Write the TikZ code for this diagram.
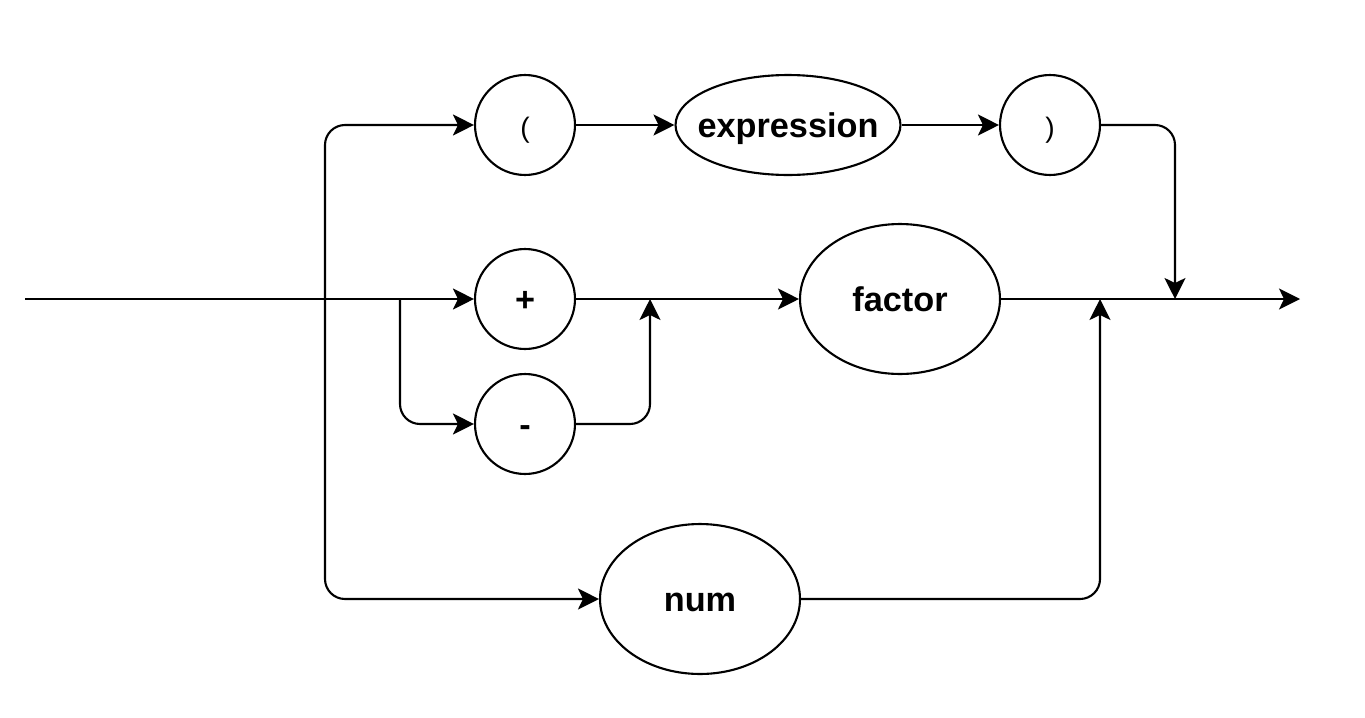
\documentclass[tikz,border=0pt]{standalone}
\usepackage{fontspec}
\setmainfont{Liberation Sans}
\usetikzlibrary{shapes.geometric,arrows.meta}
\tikzset{
  term/.style={circle, draw=black, line width=1.2pt, minimum size=2cm, inner sep=0pt,
    font=\fontsize{19.5}{22}\selectfont\bfseries, text height=14.2pt, text depth=0pt},
  paren/.style={term, font=\fontsize{16}{19}\selectfont},
  nonterm/.style={ellipse, draw=black, line width=1.2pt, inner sep=-0.3cm,
    font=\fontsize{19.5}{22}\selectfont\bfseries, text height=14.2pt, text depth=0pt},
  arr/.style={line width=1.2pt, -{Stealth[length=0.42cm,width=0.42cm,inset=0.1cm]}},
  link/.style={arr, rounded corners=0.4cm},
}

\begin{document}
\begin{tikzpicture}[x=0.02cm,y=-0.02cm]
    \useasboundingbox (0,0) rectangle (1365,717);

    % grammar symbols
    \node [paren] (lp) at (525,125) {(};
    \node [nonterm, minimum width=4.5cm, minimum height=2cm] (expr) at (788,125) {expression};
    \node [paren] (rp) at (1050,125) {)};
    \node [term] (plus) at (525,299) {+};
    \node [term] (minus) at (525,424) {-};
    \node [nonterm, minimum width=4cm, minimum height=3cm] (factor) at (900,299) {factor};
    \node [nonterm, minimum width=4cm, minimum height=3cm] (num) at (700,599) {num};

    % split and join points on the main line
    \coordinate (start) at (25,299);
    \coordinate (split1) at (325,299);
    \coordinate (split2) at (400,299);
    \coordinate (join1) at (650,299);
    \coordinate (join2) at (1100,299);
    \coordinate (join3) at (1175,299);
    \coordinate (end) at (1300,299);

    \draw [arr] (start) -- (plus);
    \draw [link] (split1) |- (lp.west);
    \draw [link] (split1) |- (num.west);
    \draw [link] (split2) |- (minus.west);
    \draw [arr] (lp) -- (expr);
    \draw [arr] (expr) -- (rp);
    \draw [link] (rp.east) -| (join3);
    \draw [arr] (plus) -- (factor);
    \draw [link] (minus.east) -| (join1);
    \draw [arr] (factor) -- (end);
    \draw [link] (num.east) -| (join2);
\end{tikzpicture}
\end{document}
